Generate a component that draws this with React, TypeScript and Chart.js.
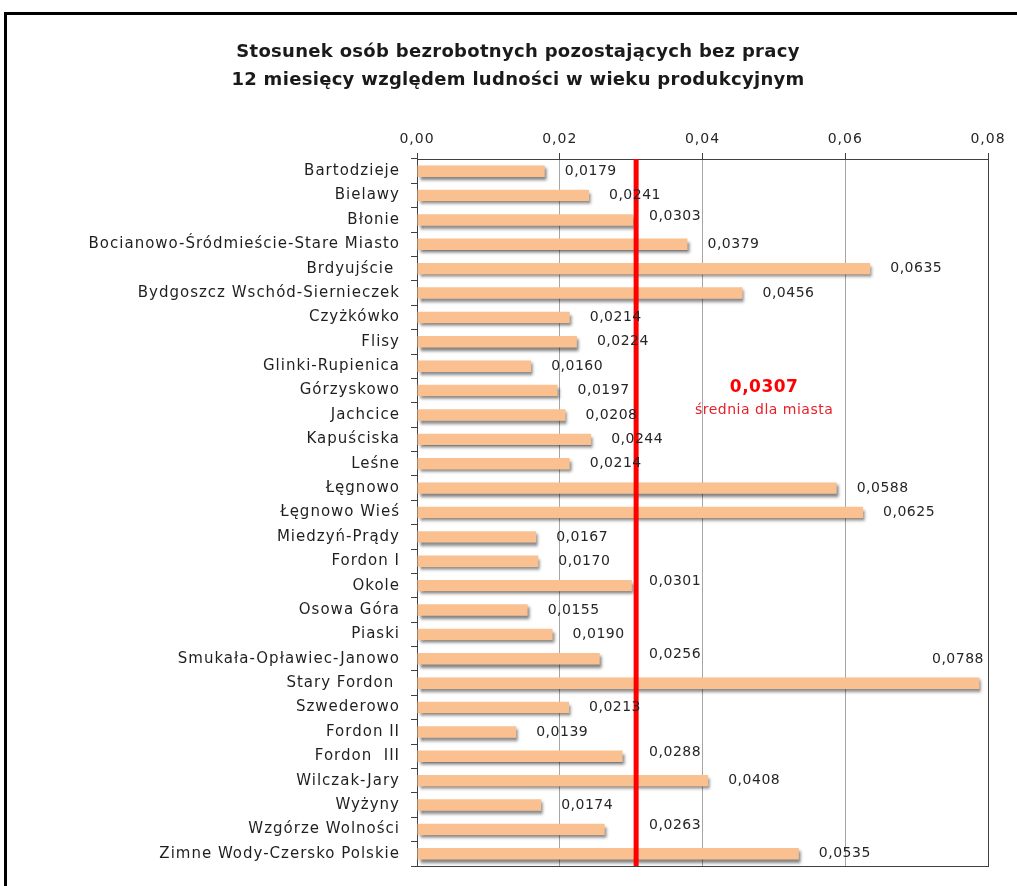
import React, { useEffect, useRef } from "react";
import { Chart, registerables } from "chart.js";

Chart.register(...registerables);

const titleLines = [
  "Stosunek osób bezrobotnych pozostających bez pracy",
  "12 miesięcy względem ludności w wieku produkcyjnym",
];

const categories = [
  "Bartodzieje",
  "Bielawy",
  "Błonie",
  "Bocianowo-Śródmieście-Stare Miasto",
  "Brdyujście ",
  "Bydgoszcz Wschód-Siernieczek",
  "Czyżkówko",
  "Flisy",
  "Glinki-Rupienica",
  "Górzyskowo",
  "Jachcice",
  "Kapuściska",
  "Leśne",
  "Łęgnowo",
  "Łęgnowo Wieś",
  "Miedzyń-Prądy",
  "Fordon I",
  "Okole",
  "Osowa Góra",
  "Piaski",
  "Smukała-Opławiec-Janowo",
  "Stary Fordon ",
  "Szwederowo",
  "Fordon II",
  "Fordon  III",
  "Wilczak-Jary",
  "Wyżyny",
  "Wzgórze Wolności",
  "Zimne Wody-Czersko Polskie",
];

const values = [
  0.0179, 0.0241, 0.0303, 0.0379, 0.0635, 0.0456, 0.0214, 0.0224, 0.016,
  0.0197, 0.0208, 0.0244, 0.0214, 0.0588, 0.0625, 0.0167, 0.017, 0.0301,
  0.0155, 0.019, 0.0256, 0.0788, 0.0213, 0.0139, 0.0288, 0.0408, 0.0174,
  0.0263, 0.0535,
];

const cityMean = 0.0307;
const meanLabel = "0,0307";
const meanCaption = "średnia dla miasta";

const xTicks = [0, 0.02, 0.04, 0.06, 0.08];

const fmt = (v: number, d: number) => v.toFixed(d).replace(".", ",");

const AXIS_SPACING = "1px";
const LABEL_SPACING = "0.5px";
const FONT = "'DejaVu Sans', Verdana, sans-serif";

export default function App() {
  const ref = useRef<HTMLCanvasElement | null>(null);

  useEffect(() => {
    if (!ref.current) return;

    const letterSpacingPlugin = {
      id: "letterSpacing",
      beforeDraw(chart: any) {
        (chart.ctx as any).letterSpacing = AXIS_SPACING;
      },
    };

    const titlePlugin = {
      id: "titleText",
      afterDraw(chart: any) {
        const { ctx } = chart;
        ctx.save();
        (ctx as any).letterSpacing = "0.3px";
        ctx.fillStyle = "#1a1a1a";
        ctx.font = `bold 18px ${FONT}`;
        ctx.textAlign = "center";
        ctx.textBaseline = "middle";
        ctx.fillText(titleLines[0], 518, 52);
        ctx.fillText(titleLines[1], 518, 80);
        ctx.restore();
      },
    };

    const frameAndShadow = {
      id: "frameAndShadow",
      beforeDatasetsDraw(chart: any) {
        const { ctx, chartArea } = chart;
        ctx.save();
        ctx.strokeStyle = "#404040";
        ctx.lineWidth = 1;
        ctx.strokeRect(
          chartArea.left + 0.5,
          chartArea.top + 0.5,
          chartArea.right - chartArea.left,
          chartArea.bottom - chartArea.top
        );
        ctx.restore();
        ctx.save();
        ctx.shadowColor = "rgba(0,0,0,0.5)";
        ctx.shadowOffsetX = 2;
        ctx.shadowOffsetY = 3;
        ctx.shadowBlur = 3;
      },
      afterDatasetsDraw(chart: any) {
        chart.ctx.restore();
      },
    };

    const meanLine = {
      id: "meanLine",
      afterDatasetsDraw(chart: any) {
        const { ctx, chartArea, scales } = chart;
        const x = scales.x.getPixelForValue(cityMean);
        ctx.save();
        (ctx as any).letterSpacing = LABEL_SPACING;
        ctx.strokeStyle = "#ff0000";
        ctx.lineWidth = 5;
        ctx.beginPath();
        ctx.moveTo(x, chartArea.top);
        ctx.lineTo(x, chartArea.bottom);
        ctx.stroke();

        const yRef = scales.y.getPixelForValue(9);
        const tx = x + 128;
        ctx.fillStyle = "#ff0000";
        ctx.textAlign = "center";
        ctx.textBaseline = "middle";
        ctx.font = `bold 17px ${FONT}`;
        ctx.fillText(meanLabel, tx, yRef - 3);
        ctx.fillStyle = "#e8202a";
        ctx.font = `14px ${FONT}`;
        ctx.fillText(meanCaption, tx, yRef + 20);
        ctx.restore();
      },
    };

    const valueLabels = {
      id: "valueLabels",
      afterDraw(chart: any) {
        const { ctx, chartArea, scales } = chart;
        const meta = chart.getDatasetMeta(0);
        const lineX = scales.x.getPixelForValue(cityMean);
        ctx.save();
        (ctx as any).letterSpacing = LABEL_SPACING;
        ctx.font = `14px ${FONT}`;
        ctx.fillStyle = "#262626";
        ctx.textBaseline = "middle";
        meta.data.forEach((bar: any, i: number) => {
          const v = values[i];
          const text = fmt(v, 4);
          const w = ctx.measureText(text).width;
          let x = bar.x + 20;
          let y = bar.y;
          let align: CanvasTextAlign = "left";
          if (v > 0.025 && v < cityMean) {
            x = lineX + 13;
            y = bar.y - 4;
          }
          if (x + w > chartArea.right) {
            align = "right";
            x = chartArea.right - 4;
            y = bar.y - 24;
          }
          ctx.textAlign = align;
          ctx.fillText(text, x, y);
        });
        ctx.restore();
      },
    };

    const chart = new Chart(ref.current, {
      type: "bar",
      data: {
        labels: categories,
        datasets: [
          {
            data: values,
            backgroundColor: "#FAC090",
            borderWidth: 0,
            barPercentage: 0.47,
            categoryPercentage: 1,
          },
        ],
      },
      plugins: [letterSpacingPlugin, frameAndShadow, meanLine, valueLabels, titlePlugin],
      options: {
        indexAxis: "y",
        responsive: false,
        animation: false,
        events: [],
        layout: { padding: { left: 0, right: 29, top: 114, bottom: 13 } },
        plugins: {
          legend: { display: false },
          tooltip: { enabled: false },
          title: { display: false },
        },
        scales: {
          x: {
            type: "linear",
            position: "top",
            min: 0,
            max: 0.08,
            afterBuildTicks: (s: any) => {
              s.ticks = xTicks.map((v) => ({ value: v }));
            },
            afterFit: (s: any) => {
              s.height = 45;
            },
            ticks: {
              color: "#262626",
              font: { family: FONT, size: 14 },
              padding: 5,
              callback: (v: any) => fmt(Number(v), 2),
            },
            grid: {
              color: "#a6a6a6",
              lineWidth: 1,
              drawTicks: true,
              tickLength: 6,
              tickColor: "#404040",
            },
            border: { display: true, color: "#404040" },
          },
          y: {
            type: "category",
            afterFit: (s: any) => {
              s.width = 417;
            },
            ticks: {
              autoSkip: false,
              color: "#1f1f1f",
              font: { family: FONT, size: 15 },
              padding: 11,
            },
            grid: {
              drawOnChartArea: false,
              drawTicks: true,
              tickLength: 6,
              tickColor: "#404040",
              offset: true,
            },
            border: { display: true, color: "#404040" },
          },
        },
      },
    } as any);

    return () => chart.destroy();
  }, []);

  return (
    <div
      style={{
        position: "fixed",
        left: 0,
        top: 0,
        width: 1017,
        height: 886,
        overflow: "hidden",
        background: "#ffffff",
      }}
    >
      <div
        style={{
          position: "absolute",
          left: 4,
          top: 12,
          width: 1100,
          height: 1000,
          border: "3px solid #000",
          boxSizing: "border-box",
        }}
      />
      <canvas
        ref={ref}
        width={1017}
        height={886}
        style={{ position: "absolute", left: 0, top: 0, width: 1017, height: 886 }}
      />
    </div>
  );
}
